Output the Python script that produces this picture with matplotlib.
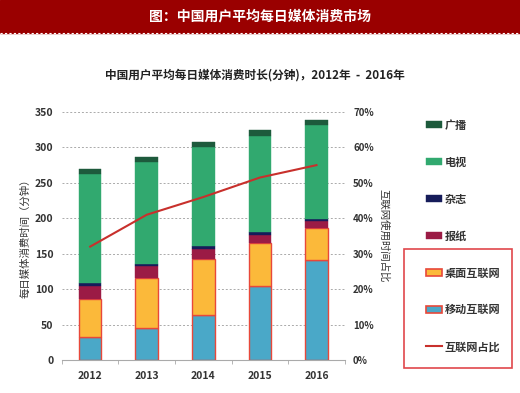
import numpy as np
import matplotlib.pyplot as plt
from matplotlib.patches import Rectangle, Patch
from matplotlib.lines import Line2D

plt.rcParams['font.family'] = ['Noto Sans CJK SC', 'DejaVu Sans']

years = ['2012', '2013', '2014', '2015', '2016']
mobile = [32, 45, 64, 104, 141]
desktop = [54, 71, 78, 61, 45]
newspaper = [19, 17, 15, 12, 10]
magazine = [3.5, 3, 4, 3, 3]
tv = [154, 144, 139, 136, 133]
radio = [7, 7, 7, 8, 7]
internet_share = [32, 41, 46, 51.5, 55]

series = [
    ('移动互联网', mobile, '#4aa8c8', '#e8483a'),
    ('桌面互联网', desktop, '#fbb93a', '#e8483a'),
    ('报纸', newspaper, '#9b1b45', None),
    ('杂志', magazine, '#161c5a', None),
    ('电视', tv, '#31a96f', None),
    ('广播', radio, '#1d5a3c', None),
]

fig = plt.figure(figsize=(5.2, 3.93), dpi=100)

# banner
fig.patches.append(Rectangle((0, 0.916), 1, 0.084, transform=fig.transFigure,
                             color='#9a0000', zorder=0))
fig.add_artist(Line2D([0, 1], [0.916, 0.916], transform=fig.transFigure,
                      color='white', lw=0.8, ls=(0, (2, 2))))
fig.text(0.5, 0.958, '图：中国用户平均每日媒体消费市场', color='white',
         fontsize=10, fontweight='bold', ha='center', va='center')
fig.text(0.49, 0.808, '中国用户平均每日媒体消费时长(分钟)，2012年  -  2016年',
         fontsize=8.4, fontweight='bold', ha='center', va='center', color='#222222')

ax = fig.add_axes([0.119, 0.084, 0.544, 0.631])
x = np.arange(len(years))
bottom = np.zeros(len(years))
for name, vals, col, ec in series:
    ax.bar(x, vals, 0.4, bottom=bottom, color=col,
           edgecolor=ec if ec else col, linewidth=1.0 if ec else 0.3, zorder=3)
    bottom += np.array(vals)

ax.set_ylim(0, 350)
ax.set_yticks(np.arange(0, 351, 50))
ax.set_xlim(-0.5, 4.5)
ax.set_xticks(x)
ax.set_xticklabels(years)
ax.set_xticks(np.arange(-0.5, 5, 1), minor=True)
ax.tick_params(axis='x', which='major', length=0, pad=8)
ax.tick_params(axis='x', which='minor', length=3, color='#aaaaaa')
ax.tick_params(axis='y', length=0, pad=6)
ax.tick_params(labelsize=7.5)
for lbl in ax.get_xticklabels() + ax.get_yticklabels():
    lbl.set_fontweight('bold')
    lbl.set_color('#333333')
ax.grid(axis='y', color='#aaaaaa', ls=(0, (2, 2)), lw=0.7, zorder=0)
for s in ['top', 'left', 'right']:
    ax.spines[s].set_visible(False)
ax.spines['bottom'].set_color('#aaaaaa')
ax.set_ylabel('每日媒体消费时间（分钟）', fontsize=7.5, color='#333333', labelpad=3)

ax2 = ax.twinx()
ax2.plot(x, internet_share, color='#c8302c', lw=1.5, zorder=4)
ax2.set_ylim(0, 70)
ax2.set_yticks(np.arange(0, 71, 10))
ax2.set_yticklabels([f'{v}%' for v in range(0, 71, 10)])
ax2.tick_params(axis='y', length=0, labelsize=7, pad=6)
for lbl in ax2.get_yticklabels():
    lbl.set_fontweight('bold')
    lbl.set_color('#333333')
for s in ['top', 'left', 'right', 'bottom']:
    ax2.spines[s].set_visible(False)
ax2.set_ylabel('互联网使用时间占比', fontsize=7.5, color='#333333',
               rotation=270, labelpad=11)

handles = [Patch(facecolor=c, edgecolor=e if e else c, lw=1.2 if e else 0.3, label=n)
           for n, v, c, e in series[::-1]]
handles.append(Line2D([], [], color='#c8302c', lw=1.5, label='互联网占比'))
leg = fig.legend(handles=handles, loc='upper left', bbox_to_anchor=(0.80, 0.723),
                 frameon=False, fontsize=8, labelspacing=2.15, handlelength=1.4,
                 handleheight=0.6, handletextpad=0.3)
for t in leg.get_texts():
    t.set_fontweight('bold')
    t.set_color('#333333')
fig.patches.append(Rectangle((0.777, 0.064), 0.208, 0.302, transform=fig.transFigure,
                             fill=False, edgecolor='#e0474c', lw=1.2))

fig.savefig('out.png', dpi=100)
